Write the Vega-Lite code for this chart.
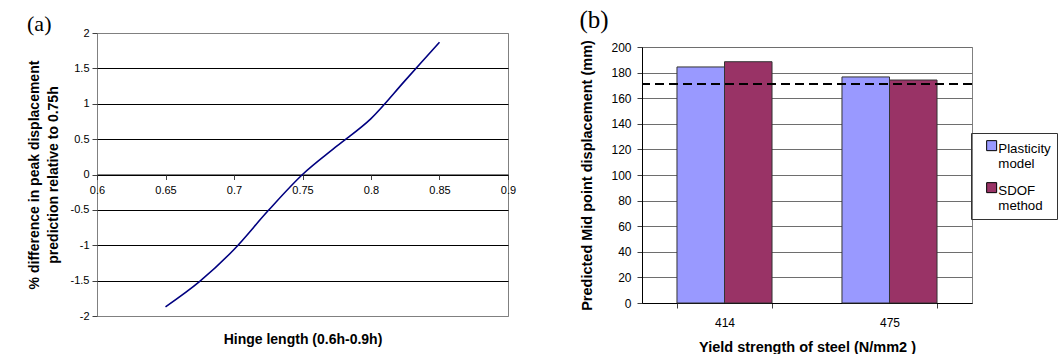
{
  "$schema": "https://vega.github.io/schema/vega-lite/v6.json",
  "background": "white",
  "padding": {"left": 26, "top": 7, "right": 0, "bottom": 0},
  "spacing": 62,
  "resolve": {"legend": {"color": "independent"}},
  "config": {
    "font": "Liberation Sans",
    "view": {"stroke": "#808080", "strokeWidth": 1},
    "axis": {"labelColor": "black", "titleColor": "black", "labelFont": "Liberation Sans", "titleFont": "Liberation Sans", "titleFontWeight": "bold", "tickColor": "#404040", "tickSize": 5, "domainColor": "black"}
  },
  "hconcat": [
    {
      "width": 411,
      "height": 283,
      "title": {"text": "(a)", "anchor": "start", "frame": "bounds", "font": "Liberation Serif", "fontSize": 22, "fontWeight": "normal", "color": "black", "offset": -9},
      "data": {"values": [
        {"h": 0.65, "d": -1.87},
        {"h": 0.675, "d": -1.51},
        {"h": 0.7, "d": -1.06},
        {"h": 0.725, "d": -0.51},
        {"h": 0.75, "d": 0},
        {"h": 0.775, "d": 0.40},
        {"h": 0.8, "d": 0.79},
        {"h": 0.825, "d": 1.33},
        {"h": 0.85, "d": 1.87}
      ]},
      "mark": {"type": "line", "color": "#000080", "strokeWidth": 1.6, "interpolate": "monotone"},
      "encoding": {
        "x": {"field": "h", "type": "quantitative", "title": "Hinge length (0.6h-0.9h)",
          "scale": {"domain": [0.6, 0.9], "nice": false, "zero": false},
          "axis": {"values": [0.6, 0.65, 0.7, 0.75, 0.8, 0.85, 0.9], "labelExpr": "'' + datum.value", "grid": false, "offset": -141.5, "labelFontSize": 11, "labelPadding": 5, "titleFontSize": 14, "titleY": 158, "domainColor": "black", "labelFlush": false}},
        "y": {"field": "d", "type": "quantitative", "title": ["% difference in peak displacement", "prediction relative to 0.75h"],
          "scale": {"domain": [-2, 2], "nice": false},
          "axis": {"values": [-2, -1.5, -1, -0.5, 0, 0.5, 1, 1.5, 2], "labelExpr": "'' + datum.value", "grid": true, "gridColor": {"expr": "abs(datum.value) == 2 ? '#808080' : 'black'"}, "gridOpacity": 1, "domain": false, "labelFontSize": 11, "labelPadding": 3, "titleFontSize": 14, "titleLineHeight": 19, "titlePadding": 10}}
      }
    },
    {
      "title": {"text": "(b)", "anchor": "start", "frame": "bounds", "font": "Liberation Serif", "fontSize": 25, "fontWeight": "normal", "color": "black", "offset": -5},
      "spacing": 0,
      "resolve": {"legend": {"color": "independent"}},
      "vconcat": [
        {
          "width": 330,
          "height": 1,
          "view": {"stroke": null},
          "data": {"values": [{"t": ""}]},
          "mark": {"type": "text", "opacity": 0},
          "encoding": {"text": {"field": "t", "type": "nominal"}}
        },
        {
          "width": 330,
          "height": 256,
          "encoding": {
            "y": {"field": "disp", "type": "quantitative", "title": "Predicted Mid point displacement (mm)",
              "scale": {"domain": [0, 200], "nice": false},
              "axis": {"values": [0, 20, 40, 60, 80, 100, 120, 140, 160, 180, 200], "labelOverlap": false, "grid": true, "gridColor": "#6e6e6e", "gridOpacity": 1, "domain": true, "domainColor": "black", "labelFontSize": 12, "labelPadding": 6, "titleFontSize": 14.5, "titlePadding": 16}}
          },
          "layer": [
            {
              "data": {"values": [
                {"yield": "414", "method": "Plasticity model", "disp": 184.4},
                {"yield": "414", "method": "SDOF method", "disp": 188.5},
                {"yield": "475", "method": "Plasticity model", "disp": 176.6},
                {"yield": "475", "method": "SDOF method", "disp": 174.2}
              ]},
              "mark": {"type": "bar", "stroke": "#333333", "strokeWidth": 1},
              "encoding": {
                "x": {"field": "yield", "type": "nominal", "title": "Yield strength of steel (N/mm2 )",
                  "scale": {"paddingInner": 0.424, "paddingOuter": 0.212},
                  "axis": {"labelAngle": 0, "tickBand": "extent", "grid": false, "labelFontSize": 12, "labelPadding": 9, "titleFontSize": 14.5, "titlePadding": 12, "domainColor": "black"}},
                "xOffset": {"field": "method", "type": "nominal", "scale": {"paddingInner": 0, "paddingOuter": 0}},
                "color": {"field": "method", "type": "nominal",
                  "scale": {"domain": ["Plasticity model", "SDOF method"], "range": ["#9999FF", "#993366"]},
                  "legend": {"title": null, "orient": "none", "legendX": 329, "legendY": 86, "strokeColor": "#333333", "padding": 6, "symbolType": "square", "symbolSize": 100, "symbolOffset": 8, "symbolStrokeColor": "black", "symbolStrokeWidth": 1, "labelFontSize": 13.3, "labelColor": "black", "labelExpr": "[split(datum.label, ' ')[0] + '\u00a0\u00a0\u00a0', split(datum.label, ' ')[1]]", "labelLineHeight": 15.5, "rowPadding": 9, "labelBaseline": "top", "labelOffset": 0, "encode": {"labels": {"update": {"dy": {"value": -4}}}}}}
              }
            },
            {
              "data": {"values": [{"disp": 171}]},
              "mark": {"type": "rule", "color": "black", "strokeWidth": 2, "strokeDash": [9, 5]}
            }
          ]
        }
      ]
    }
  ]
}
